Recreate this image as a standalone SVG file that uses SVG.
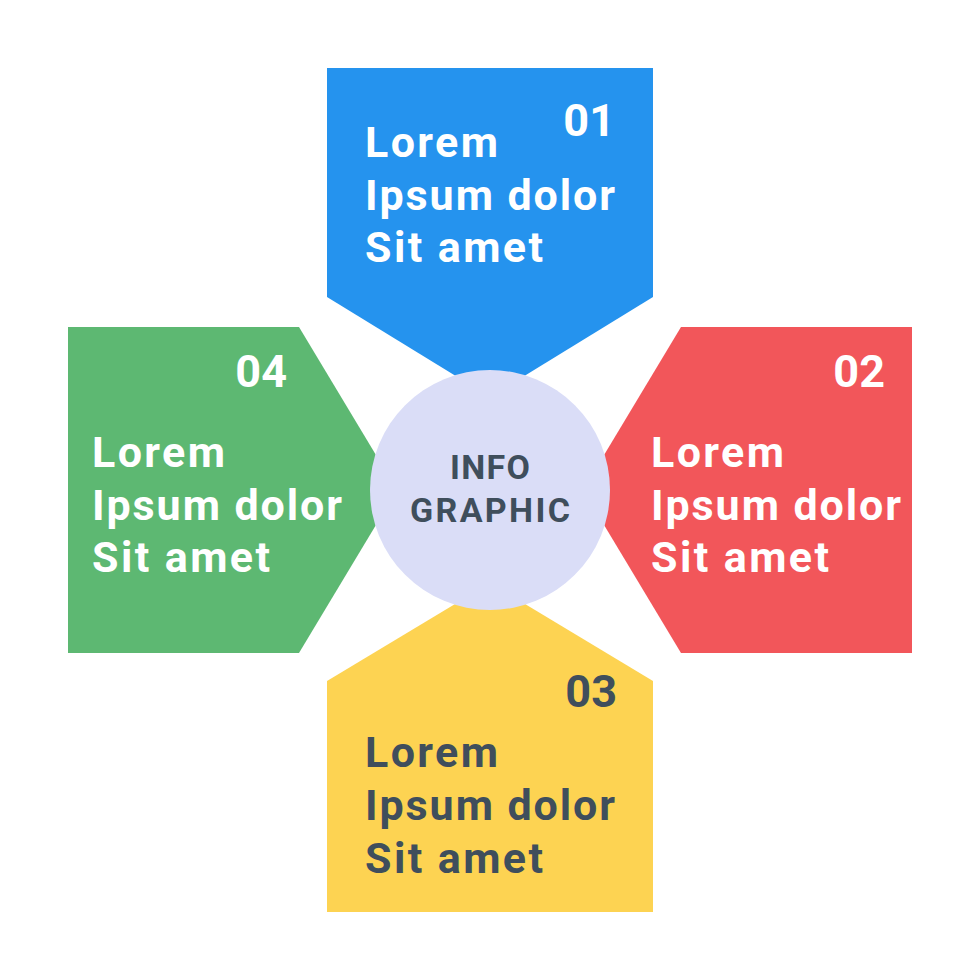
<svg xmlns="http://www.w3.org/2000/svg" width="980" height="980" viewBox="0 0 980 980">
<style>
.t{font-family:Roboto,"Liberation Sans",sans-serif;font-weight:700;font-size:43px}
.n{font-family:Roboto,"Liberation Sans",sans-serif;font-weight:700;font-size:45px;text-anchor:end}
.w{fill:#ffffff}
.d{fill:#3F4E5C}
.c{font-family:Roboto,"Liberation Sans",sans-serif;font-weight:700;font-size:34px;text-anchor:middle;fill:#3F4E5C}
</style>
<rect width="980" height="980" fill="#ffffff"/>
<g id="node-01">
<polygon points="327,68 653,68 653,297 490,397 327,297" fill="#2593EE"/>
<text class="n w" x="615" y="136">01</text>
<text class="t w" x="365" y="157" textLength="133" lengthAdjust="spacing">Lorem</text>
<text class="t w" x="365" y="210" textLength="250" lengthAdjust="spacing">Ipsum dolor</text>
<text class="t w" x="365" y="262" textLength="178" lengthAdjust="spacing">Sit amet</text>
</g>
<g id="node-02">
<polygon points="912,327 912,653 681,653 583,490 681,327" fill="#F2565A"/>
<text class="n w" x="885" y="387">02</text>
<text class="t w" x="651" y="467" textLength="133" lengthAdjust="spacing">Lorem</text>
<text class="t w" x="651" y="520" textLength="250" lengthAdjust="spacing">Ipsum dolor</text>
<text class="t w" x="651" y="572" textLength="178" lengthAdjust="spacing">Sit amet</text>
</g>
<g id="node-03">
<polygon points="327,912 653,912 653,681 490,583 327,681" fill="#FDD352"/>
<text class="n d" x="617" y="707">03</text>
<text class="t d" x="365" y="767" textLength="133" lengthAdjust="spacing">Lorem</text>
<text class="t d" x="365" y="820" textLength="250" lengthAdjust="spacing">Ipsum dolor</text>
<text class="t d" x="365" y="873" textLength="178" lengthAdjust="spacing">Sit amet</text>
</g>
<g id="node-04">
<polygon points="68,327 68,653 299,653 397,490 299,327" fill="#5DB872"/>
<text class="n w" x="287" y="387">04</text>
<text class="t w" x="92" y="467" textLength="133" lengthAdjust="spacing">Lorem</text>
<text class="t w" x="92" y="520" textLength="250" lengthAdjust="spacing">Ipsum dolor</text>
<text class="t w" x="92" y="572" textLength="178" lengthAdjust="spacing">Sit amet</text>
</g>
<g id="connectors"></g>
<g id="center">
<circle cx="490" cy="490" r="120" fill="#DADDF7"/>
<text class="c" x="490" y="479" textLength="80" lengthAdjust="spacing">INFO</text>
<text class="c" x="490" y="522" textLength="160" lengthAdjust="spacing">GRAPHIC</text>
</g>
</svg>
